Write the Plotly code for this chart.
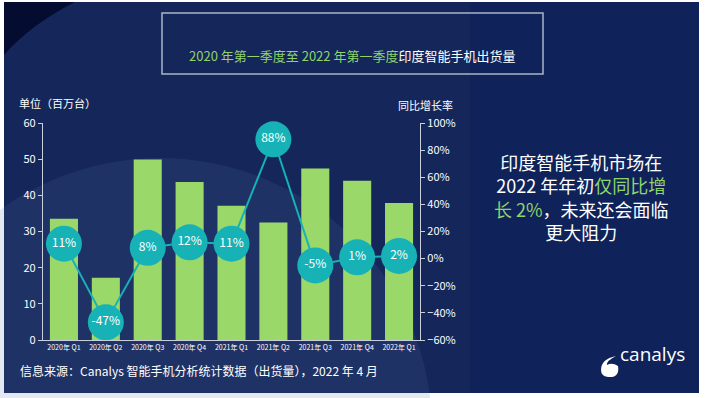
import plotly.graph_objects as go

quarters = ["2020年 Q1", "2020年 Q2", "2020年 Q3", "2020年 Q4", "2021年 Q1",
            "2021年 Q2", "2021年 Q3", "2021年 Q4", "2022年 Q1"]
shipments = [33.5, 17.2, 49.9, 43.7, 37.1, 32.5, 47.4, 44.0, 37.9]
yoy_growth = [11, -47, 8, 12, 11, 88, -5, 1, 2]
yoy_labels = ["11%", "-47%", "8%", "12%", "11%", "88%", "-5%", "1%", "2%"]

W, H = 705, 398
L, R, T, B = 43, 285, 123, 58
PW, PH = W - L - R, H - T - B

def px(x):
    return (x - L) / PW

def py(y):
    return (H - B - y) / PH

FONT = "Noto Sans CJK SC"
GREEN = "#9bd86a"
TEAL = "#17b2b6"
AXIS = "#c9d0dc"

fig = go.Figure()
fig.add_trace(go.Bar(x=quarters, y=shipments, marker=dict(color=GREEN, line=dict(width=0)),
                     yaxis="y", hoverinfo="skip", showlegend=False))
fig.add_trace(go.Scatter(x=quarters, y=yoy_growth, yaxis="y2", mode="lines+markers+text",
                         line=dict(color=TEAL, width=2),
                         marker=dict(size=36, color=TEAL, line=dict(width=0)),
                         text=yoy_labels, textposition="middle center",
                         textfont=dict(color="white", size=12, family=FONT),
                         showlegend=False, hoverinfo="skip", cliponaxis=False))

shapes = [
    dict(type="rect", xref="paper", yref="paper", x0=px(0), x1=px(W), y0=py(0), y1=py(H),
         fillcolor="white", line_width=0, layer="below"),
    dict(type="rect", xref="paper", yref="paper", x0=px(4), x1=px(699), y0=py(2), y1=py(393),
         fillcolor="#15275a", line_width=0, layer="below"),
    dict(type="rect", xref="paper", yref="paper", x0=px(470), x1=px(699), y0=py(2), y1=py(393),
         fillcolor="rgba(8,30,90,0.45)", line_width=0, layer="below"),
    dict(type="circle", xref="paper", yref="paper", x0=px(160 - 272), x1=px(160 + 272),
         y0=py(430 - 272), y1=py(430 + 272), fillcolor="rgba(90,110,160,0.16)", line_width=0,
         layer="below"),
    dict(type="path", xref="paper", yref="paper",
         path=f"M {px(4)} {py(2)} L {px(75)} {py(2)} Q {px(30)} {py(25)} {px(4)} {py(55)} Z",
         fillcolor="#040c30", line_width=0, layer="below"),
    dict(type="rect", xref="paper", yref="paper", x0=px(162), x1=px(543), y0=py(13), y1=py(74),
         fillcolor="rgba(0,0,0,0)", line=dict(color="#aab4c6", width=1.5)),
    dict(type="path", xref="paper", yref="paper",
         path=f"M {px(601)} {py(370)} Q {px(601)} {py(359)} {px(616)} {py(356)} "
              f"Q {px(606)} {py(361)} {px(607)} {py(365)} Q {px(612)} {py(362)} {px(618)} {py(366)} "
              f"Q {px(620)} {py(378)} {px(608)} {py(377)} Q {px(601)} {py(376)} {px(601)} {py(370)} Z",
         fillcolor="white", line_width=0),
]

annotations = [
    dict(x=px(352), y=py(44), xref="paper", yref="paper", showarrow=False, xanchor="center",
         text="<span style='color:#8fd36a'>2020 年第一季度至 2022 年第一季度</span>印度智能手机出货量",
         font=dict(color="white", size=13, family=FONT)),
    dict(x=px(17), y=py(93), xref="paper", yref="paper", showarrow=False, xanchor="left",
         text="单位（百万台）", font=dict(color="white", size=11, family=FONT)),
    dict(x=px(455), y=py(95), xref="paper", yref="paper", showarrow=False, xanchor="right",
         text="同比增长率", font=dict(color="white", size=11, family=FONT)),
    dict(x=px(581), y=py(197), xref="paper", yref="paper", showarrow=False, xanchor="center",
         text="印度智能手机市场在<br>2022 年年初<span style='color:#8fd36a'>仅同比增</span><br>"
              "<span style='color:#8fd36a'>长 2%</span>，未来还会面临<br>更大阻力",
         align="center", font=dict(color="white", size=18, family=FONT)),
    dict(x=px(18), y=py(381), xref="paper", yref="paper", showarrow=False, xanchor="left",
         text="信息来源：Canalys 智能手机分析统计数据（出货量），2022 年 4 月",
         font=dict(color="white", size=12, family=FONT)),
    dict(x=px(687), y=py(369), xref="paper", yref="paper", showarrow=False, xanchor="right",
         text="canalys", font=dict(color="white", size=19, family="Open Sans")),
]

fig.update_layout(
    width=W, height=H,
    margin=dict(l=L, r=R, t=T, b=B, autoexpand=False),
    paper_bgcolor="white", plot_bgcolor="rgba(0,0,0,0)",
    bargap=0.33,
    font=dict(family=FONT, color="white"),
    shapes=shapes, annotations=annotations,
    xaxis=dict(range=[-0.5, 8.5], showgrid=False, showline=True, linecolor=AXIS, linewidth=1.2,
               tickangle=0, automargin=False,
               tickfont=dict(size=7, color="white", family=FONT), ticks=""),
    yaxis=dict(range=[0, 60], dtick=10, showgrid=False, showline=True, linecolor=AXIS,
               linewidth=1.2, ticks="outside", ticklen=4, tickcolor=AXIS, zeroline=False,
               automargin=False,
               tickfont=dict(size=11, color="white", family=FONT)),
    yaxis2=dict(range=[-60, 100], dtick=20, overlaying="y", side="right", showgrid=False,
                showline=True, linecolor=AXIS, linewidth=1.2, ticks="outside", ticklen=4,
                tickcolor=AXIS, zeroline=False, ticksuffix="%", automargin=False,
                tickfont=dict(size=11, color="white", family=FONT)),
)

fig.write_html("out.html", config={"displayModeBar": False},
               post_script="document.body.style.margin='0';")
